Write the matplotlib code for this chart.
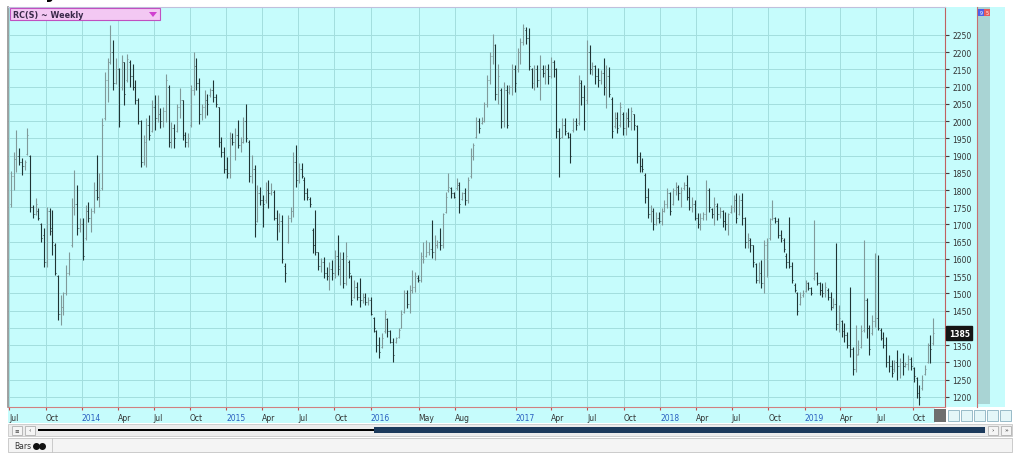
import numpy as np
import pandas as pd
import matplotlib
matplotlib.use("Agg")
import matplotlib.pyplot as plt
import matplotlib.dates as mdates
import matplotlib.transforms as mtransforms
from matplotlib.patches import Rectangle, Polygon
from matplotlib.lines import Line2D

# weekly bars, Robusta coffee RC(S), first bar week of 5 Jul 2013
first_week = "2013-07-05"

highs = [
    1855, 1910, 1975, 1921, 1892, 1887, 1979, 1902, 1756, 1776,
    1747, 1703, 1689, 1752, 1747, 1742, 1645, 1553, 1495, 1505,
    1582, 1621, 1776, 1858, 1815, 1718, 1718, 1756, 1766, 1747,
    1824, 1902, 1848, 2008, 2143, 2182, 2279, 2235, 2182, 2153,
    2192, 2172, 2196, 2177, 2167, 2119, 2066, 2003,
    1960, 2008, 2018, 2061, 2076, 2076, 2037, 2042, 2138, 2105,
    1998, 1993, 2051, 2095, 2061, 1969, 1964, 2105, 2201, 2182,
    2124, 2051, 2090, 2080, 2095, 2119, 2080, 2042, 1955, 1926,
    1897, 1969, 1964, 1979, 2003, 1955, 2013, 2051, 1945, 1902,
    1873, 1815, 1810, 1785, 1824, 1829, 1819, 1800,
    1742, 1732, 1727, 1587, 1727, 1752, 1911, 1931, 1877, 1877,
    1839, 1805, 1781, 1689, 1742, 1621, 1602, 1607, 1578, 1592,
    1597, 1626, 1669, 1621, 1621, 1650, 1597, 1553, 1539, 1534,
    1544, 1500, 1500, 1490, 1490, 1432, 1394, 1375, 1384, 1452,
    1428, 1394, 1370, 1375, 1399, 1452, 1510, 1510, 1524,
    1568, 1563, 1553, 1621, 1650, 1655, 1650, 1713, 1669, 1655,
    1689, 1732, 1795, 1848, 1810, 1795, 1834, 1824, 1795, 1805,
    1839, 1921, 1935, 2013, 2008, 2013, 2056, 2134, 2201, 2254,
    2225, 2167, 2095, 2114, 2105, 2105, 2167, 2163, 2211, 2240,
    2283, 2274, 2269, 2153, 2163, 2163, 2192, 2163,
    2163, 2167, 2187, 2177, 2153, 1979, 2008, 2008, 1969, 1964,
    2008, 2008, 2134, 2119, 2105, 2235, 2221, 2172, 2163, 2153,
    2148, 2182, 2163, 2158, 2071, 2027, 2027, 2056, 2027, 2027,
    2037, 2042, 2022, 1988, 1911, 1892, 1848, 1805, 1756, 1747,
    1737, 1737, 1747, 1771, 1805, 1795, 1805, 1824,
    1815, 1810, 1824, 1843, 1810, 1781, 1771, 1732, 1732, 1737,
    1829, 1805, 1747, 1781, 1761, 1752, 1742, 1737, 1732, 1756,
    1785, 1790, 1785, 1790, 1723, 1674, 1660, 1640, 1587, 1592,
    1597, 1655, 1660, 1718, 1771, 1723, 1718, 1684, 1660, 1616,
    1723, 1592, 1529, 1505, 1505, 1510, 1539, 1534, 1520,
    1713, 1563, 1534, 1529, 1534, 1515, 1505, 1486, 1645, 1466,
    1423, 1413, 1389, 1520, 1345, 1408, 1365, 1408, 1655, 1486,
    1408, 1437, 1616, 1611, 1399, 1389, 1375, 1321, 1307, 1307,
    1336, 1312, 1326, 1302, 1321, 1317, 1287, 1258, 1234, 1263,
    1292, 1355, 1379, 1428,
]

lows = [
    1750, 1800, 1853, 1873, 1843, 1858, 1902, 1737, 1718, 1728,
    1713, 1650, 1578, 1578, 1669, 1611, 1553, 1423, 1408, 1437,
    1495, 1553, 1636, 1728, 1669, 1679, 1597, 1655, 1708, 1679,
    1732, 1771, 1752, 1800, 2003, 2056, 2167, 2090, 2109, 1984,
    2090, 2047, 2114, 2100, 2090, 2051, 1993, 1868,
    1873, 1868, 1945, 1969, 1974, 1998, 1979, 1984, 1998, 1926,
    1921, 1921, 1969, 2008, 1945, 1926, 1926, 1984, 2076, 2090,
    1993, 2003, 2008, 2018, 2071, 2056, 2042, 1926, 1897, 1848,
    1834, 1834, 1931, 1887, 1921, 1911, 1935, 1940, 1824, 1819,
    1665, 1708, 1756, 1694, 1761, 1747, 1785, 1713,
    1655, 1679, 1587, 1534, 1645, 1708, 1723, 1810, 1819, 1834,
    1771, 1771, 1752, 1616, 1611, 1568, 1563, 1544, 1539, 1510,
    1539, 1544, 1553, 1524, 1515, 1524, 1544, 1466, 1486, 1481,
    1461, 1471, 1466, 1466, 1437, 1389, 1331, 1312, 1341, 1384,
    1375, 1355, 1302, 1355, 1370, 1399, 1442, 1457, 1442,
    1500, 1505, 1534, 1534, 1587, 1607, 1611, 1602, 1597, 1631,
    1626, 1631, 1732, 1795, 1776, 1776, 1800, 1732, 1771, 1757,
    1761, 1834, 1887, 1950, 1964, 1993, 1998, 2042, 2109, 2167,
    2061, 2051, 1979, 1984, 1979, 2080, 2076, 2085, 2143, 2167,
    2221, 2225, 2148, 2095, 2090, 2100, 2061, 2129,
    2109, 2109, 2124, 2129, 1950, 1839, 1950, 1960, 1950, 1877,
    1969, 1974, 1988, 2047, 1974, 2051, 2138, 2134, 2109, 2100,
    2109, 2076, 2037, 2071, 1950, 1979, 1964, 1984, 1960, 1960,
    1984, 1974, 1974, 1877, 1853, 1853, 1761, 1718, 1708, 1684,
    1698, 1703, 1698, 1737, 1747, 1727, 1757, 1785,
    1771, 1752, 1800, 1771, 1742, 1737, 1713, 1689, 1684, 1713,
    1713, 1737, 1718, 1698, 1713, 1718, 1694, 1684, 1669, 1732,
    1737, 1703, 1727, 1698, 1631, 1631, 1621, 1578, 1529, 1529,
    1515, 1500, 1548, 1655, 1713, 1703, 1660, 1650, 1621, 1573,
    1573, 1529, 1505, 1437, 1466, 1490, 1505, 1510, 1495,
    1539, 1524, 1495, 1490, 1490, 1481, 1452, 1457, 1394, 1389,
    1375, 1360, 1341, 1316, 1263, 1273, 1321, 1341, 1389, 1370,
    1321, 1379, 1403, 1394, 1365, 1341, 1287, 1273, 1258, 1273,
    1249, 1254, 1263, 1287, 1278, 1278, 1244, 1196, 1176, 1220,
    1263, 1297, 1297, 1350,
]

opens = [
    1760, 1840, 1890, 1900, 1880, 1870, 1905, 1900, 1750, 1730,
    1740, 1700, 1670, 1590, 1740, 1690, 1640, 1550, 1440, 1460,
    1500, 1560, 1640, 1750, 1760, 1690, 1700, 1660, 1740, 1720,
    1740, 1800, 1780, 1805, 2010, 2120, 2170, 2200, 2110, 2150,
    2100, 2170, 2120, 2170, 2130, 2100, 2060, 2000,
    1880, 1940, 1990, 1970, 2040, 2010, 2020, 2000, 2030, 2100,
    1940, 1980, 1970, 2040, 2060, 1960, 1940, 1990, 2090, 2160,
    2110, 2020, 2040, 2060, 2075, 2090, 2070, 2040, 1940, 1910,
    1860, 1850, 1950, 1940, 1960, 1930, 1940, 2000, 1940, 1840,
    1860, 1710, 1790, 1770, 1770, 1800, 1790, 1795,
    1720, 1700, 1710, 1580, 1650, 1720, 1740, 1880, 1830, 1860,
    1830, 1790, 1775, 1685, 1640, 1620, 1580, 1590, 1560, 1550,
    1570, 1560, 1610, 1580, 1600, 1530, 1590, 1550, 1490, 1520,
    1490, 1480, 1490, 1475, 1480, 1430, 1390, 1350, 1345, 1390,
    1425, 1390, 1360, 1360, 1375, 1400, 1445, 1500, 1470,
    1510, 1520, 1545, 1540, 1600, 1610, 1620, 1630, 1620, 1640,
    1650, 1640, 1735, 1800, 1805, 1790, 1805, 1815, 1775, 1790,
    1770, 1840, 1900, 1955, 2000, 1995, 2000, 2050, 2120, 2190,
    2220, 2080, 2090, 2000, 2090, 2085, 2100, 2150, 2150, 2200,
    2230, 2265, 2240, 2150, 2110, 2150, 2120, 2150,
    2140, 2150, 2130, 2170, 2150, 1970, 1955, 1990, 1965, 1955,
    1975, 2000, 1995, 2110, 2070, 2060, 2200, 2150, 2160, 2130,
    2120, 2140, 2100, 2130, 2065, 1985, 2010, 1990, 2020, 1980,
    2010, 2000, 2020, 1985, 1900, 1870, 1845, 1780, 1730, 1740,
    1700, 1720, 1710, 1740, 1760, 1790, 1760, 1800,
    1810, 1790, 1805, 1815, 1780, 1750, 1760, 1720, 1700, 1720,
    1730, 1800, 1745, 1730, 1755, 1730, 1740, 1710, 1700, 1735,
    1750, 1770, 1730, 1770, 1720, 1650, 1655, 1640, 1585, 1540,
    1560, 1530, 1640, 1660, 1715, 1720, 1710, 1670, 1655, 1610,
    1590, 1580, 1525, 1500, 1470, 1495, 1508, 1530, 1515,
    1545, 1560, 1530, 1510, 1500, 1510, 1490, 1460, 1470, 1410,
    1420, 1390, 1380, 1350, 1340, 1280, 1325, 1345, 1395, 1480,
    1400, 1385, 1420, 1430, 1395, 1370, 1350, 1300, 1290, 1280,
    1300, 1290, 1300, 1290, 1295, 1310, 1285, 1255, 1210, 1225,
    1265, 1300, 1350, 1355,
]

closes = [
    1840, 1890, 1900, 1880, 1870, 1880, 1960, 1750, 1730, 1760,
    1720, 1660, 1590, 1740, 1680, 1650, 1560, 1440, 1460, 1500,
    1560, 1600, 1750, 1760, 1690, 1700, 1610, 1740, 1720, 1740,
    1800, 1780, 1800, 1990, 2120, 2170, 2200, 2110, 2150, 2000,
    2170, 2080, 2180, 2130, 2100, 2060, 2000, 1880,
    1940, 1990, 1960, 2040, 2010, 2020, 2000, 2030, 2120, 1940,
    1980, 1950, 2040, 2060, 1960, 1940, 1950, 2090, 2160, 2110,
    2020, 2040, 2060, 2050, 2090, 2070, 2050, 1940, 1910, 1860,
    1850, 1950, 1940, 1960, 1930, 1940, 2000, 1950, 1840, 1860,
    1700, 1790, 1770, 1760, 1800, 1790, 1800, 1720,
    1700, 1710, 1600, 1560, 1720, 1740, 1880, 1830, 1860, 1840,
    1790, 1780, 1760, 1640, 1620, 1580, 1590, 1560, 1550, 1570,
    1560, 1610, 1570, 1600, 1530, 1610, 1560, 1480, 1520, 1490,
    1480, 1490, 1475, 1480, 1440, 1400, 1350, 1330, 1370, 1440,
    1390, 1360, 1320, 1370, 1395, 1440, 1500, 1470, 1510,
    1520, 1550, 1540, 1610, 1600, 1620, 1630, 1620, 1640, 1650,
    1640, 1730, 1780, 1810, 1790, 1780, 1820, 1760, 1790, 1770,
    1830, 1900, 1930, 2000, 1980, 2000, 2050, 2120, 2190, 2220,
    2080, 2130, 2000, 2090, 1990, 2100, 2150, 2110, 2200, 2230,
    2270, 2240, 2160, 2110, 2150, 2120, 2150, 2140,
    2150, 2130, 2170, 2150, 1970, 1950, 1990, 1970, 1955, 1900,
    2000, 1990, 2120, 2070, 2000, 2200, 2150, 2160, 2130, 2120,
    2140, 2100, 2130, 2080, 1970, 2010, 1980, 2040, 1980, 2010,
    2000, 2030, 1990, 1900, 1870, 1860, 1780, 1730, 1740, 1700,
    1720, 1710, 1740, 1760, 1790, 1740, 1800, 1810,
    1790, 1800, 1815, 1780, 1750, 1760, 1720, 1700, 1720, 1730,
    1800, 1750, 1730, 1760, 1730, 1740, 1710, 1700, 1730, 1750,
    1770, 1720, 1770, 1720, 1650, 1660, 1640, 1590, 1540, 1560,
    1530, 1640, 1650, 1700, 1720, 1710, 1670, 1660, 1630, 1590,
    1580, 1540, 1510, 1450, 1490, 1500, 1530, 1515, 1500,
    1560, 1530, 1510, 1500, 1520, 1490, 1460, 1470, 1410, 1430,
    1390, 1380, 1350, 1340, 1280, 1320, 1340, 1390, 1480, 1400,
    1340, 1420, 1430, 1400, 1370, 1350, 1300, 1290, 1270, 1300,
    1290, 1300, 1290, 1295, 1310, 1290, 1260, 1210, 1200, 1250,
    1280, 1350, 1340, 1385,
]

last_price = 1385

tick_dates = ["2013-07-01", "2013-10-01", "2014-01-01", "2014-04-01", "2014-07-01",
              "2014-10-01", "2015-01-01", "2015-04-01", "2015-07-01", "2015-10-01",
              "2016-01-01", "2016-05-01", "2016-08-01", "2017-01-01", "2017-04-01",
              "2017-07-01", "2017-10-01", "2018-01-01", "2018-04-01", "2018-07-01",
              "2018-10-01", "2019-01-01", "2019-04-01", "2019-07-01", "2019-10-01"]
tick_labels = ["Jul", "Oct", "2014", "Apr", "Jul", "Oct", "2015", "Apr", "Jul", "Oct",
               "2016", "May", "Aug", "2017", "Apr", "Jul", "Oct", "2018", "Apr", "Jul",
               "Oct", "2019", "Apr", "Jul", "Oct"]
price_ticks = list(range(1200, 2251, 50))

W, H = 1024, 464
CYAN = "#c6fcfc"
fig = plt.figure(figsize=(W / 100, H / 100), dpi=100)
fig.patch.set_facecolor("white")


def box(x0, y0, x1, y1, **kw):
    # rectangle given in pixels from the top-left corner
    kw.setdefault("transform", fig.transFigure)
    r = Rectangle((x0 / W, 1 - y1 / H), (x1 - x0) / W, (y1 - y0) / H, **kw)
    fig.add_artist(r)
    return r


def ftext(x, y, s, **kw):
    fig.text(x / W, 1 - y / H, s, **kw)


# panel backgrounds
box(8, 8, 1005, 408, fc=CYAN, ec="none", zorder=-3)
box(8, 408, 935, 424, fc=CYAN, ec="none", zorder=-3)
box(977, 8, 990, 405, fc="#a9d4d4", ec="none", zorder=-2)
fig.add_artist(Line2D([977 / W, 977 / W], [1 - 8 / H, 1 - 408 / H],
                      transform=fig.transFigure, color="#c87070", lw=0.8, zorder=-1))

ax = fig.add_axes([8 / W, 1 - 408 / H, 937 / W, 400 / H])
ax.set_facecolor(CYAN)

dates = pd.date_range(first_week, periods=len(highs), freq="7D")
x = mdates.date2num(dates.to_numpy())
o = np.array(opens)
c = np.array(closes)
cols = np.where(c >= o, "#809a9a", "#1f3434")

ax.vlines(x, lows, highs, colors=cols, lw=0.8, zorder=3)
ax.hlines(o, x - 2.5, x, colors=cols, lw=0.7, zorder=3)
ax.hlines(c, x, x + 2.5, colors=cols, lw=0.7, zorder=3)

ax.set_xlim(mdates.date2num(pd.Timestamp("2013-06-28")),
            mdates.date2num(pd.Timestamp("2019-12-22")))
ax.set_ylim(1170.5, 2331)

ax.set_xticks(mdates.date2num(pd.to_datetime(tick_dates).to_numpy()))
ax.set_xticklabels(tick_labels)
for lbl in ax.get_xticklabels():
    lbl.set_ha("left")
    lbl.set_color("#2a5fc0" if lbl.get_text().isdigit() else "#333333")
ax.tick_params(axis="x", direction="out", length=2.5, width=0.8, color="#c05050",
               labelsize=5.5, pad=1.5)

# the 1400 label sits under the last-price flag
ax.set_yticks(price_ticks)
ax.set_yticklabels(["" if abs(p - last_price) < 30 else str(p) for p in price_ticks])
ax.yaxis.tick_right()
ax.tick_params(axis="y", direction="out", length=3, width=0.8, color="#404040",
               labelsize=5.5, labelcolor="#333333", pad=2.5)

ax.grid(True, color="#a2dede", lw=0.7, zorder=0)
ax.set_axisbelow(True)
ax.spines["left"].set_color("#909090")
ax.spines["left"].set_linewidth(1.2)
ax.spines["top"].set_color("#c0c0dc")
ax.spines["bottom"].set_color("#d08080")
ax.spines["bottom"].set_linewidth(0.8)
ax.spines["right"].set_color("#c06060")
ax.spines["right"].set_linewidth(0.8)

# last price flag
trans = mtransforms.blended_transform_factory(ax.transAxes, ax.transData)
ax.text(1.004, last_price, str(last_price), transform=trans, ha="left", va="center",
        fontsize=5.5, color="white", weight="bold", clip_on=False, zorder=10,
        bbox=dict(boxstyle="square,pad=0.3", fc="#151515", ec="#151515"))

# symbol box top-left
box(10, 9, 160, 21, fc="#f3c8f3", ec="#c050c0", lw=0.8, zorder=5)
ftext(13, 15.5, "RC(S) ~ Weekly", fontsize=5.8, weight="bold", color="#3a2a4a",
      va="center", zorder=6)
fig.add_artist(Polygon([[149 / W, 1 - 13 / H], [157 / W, 1 - 13 / H], [153 / W, 1 - 18 / H]],
                       closed=True, transform=fig.transFigure, fc="#d040d0", ec="none",
                       zorder=6))
ftext(58, -2, "Weekly", fontsize=14, weight="bold", color="black", ha="right",
      va="baseline")

# small markers right
box(978, 10, 984, 17, fc="#5060e8", ec="none", zorder=5)
box(984, 10, 990, 17, fc="#e85a5a", ec="none", zorder=5)
ftext(981, 13.5, "9", fontsize=3.5, color="white", ha="center", va="center", zorder=6)
ftext(987, 13.5, "5", fontsize=3.5, color="white", ha="center", va="center", zorder=6)

# bottom-right buttons next to the date axis
box(934, 410, 946, 423, fc="#6e6e6e", ec="none")
for bx in [948, 961, 974, 987, 1000]:
    box(bx, 411, bx + 11, 422, fc="#e4f6f8", ec="#8ab0c0", lw=0.6)

# scroll bar row
box(8, 425, 1012, 437, fc="#ececec", ec="#c8c8c8", lw=0.6)
for bx in [12, 25, 988, 1001]:
    box(bx, 426.5, bx + 10, 435.5, fc="#f5f5f5", ec="#b0b0b0", lw=0.6)
ftext(17, 431, "≡", fontsize=4, ha="center", va="center", color="#333333")
ftext(30, 431, "‹", fontsize=4.5, ha="center", va="center", color="#333333")
ftext(993, 431, "›", fontsize=4.5, ha="center", va="center", color="#333333")
ftext(1006, 431, "»", fontsize=4.5, ha="center", va="center", color="#333333")
box(38, 429.5, 374, 432, fc="black", ec="none")
box(374, 428, 985, 434, fc="#1c3a5c", ec="none")

# tab row
box(8, 439, 1012, 453, fc="#f4f4f4", ec="#c4c4c4", lw=0.6)
fig.add_artist(Line2D([52 / W, 52 / W], [1 - 439 / H, 1 - 453 / H],
                      transform=fig.transFigure, color="#c4c4c4", lw=0.6))
ftext(14, 446.5, "Bars", fontsize=5.5, color="#333333", va="center")
fig.add_artist(Line2D([36 / W, 42 / W], [1 - 446.5 / H, 1 - 446.5 / H],
                      transform=fig.transFigure, ls="none", marker="o", ms=4,
                      color="#111111"))

fig.savefig("out.png", dpi=100)
